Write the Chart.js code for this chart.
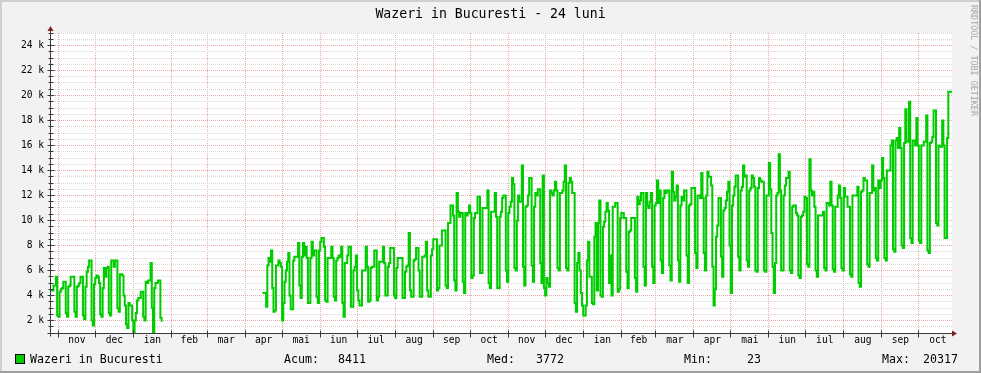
<!DOCTYPE html>
<html>
<head>
<meta charset="utf-8">
<title>Wazeri in Bucuresti - 24 luni</title>
<script src="https://cdn.jsdelivr.net/npm/chart.js@4.4.1/dist/chart.umd.min.js"></script>
<style>
html,body{margin:0;padding:0;background:#f2f2f2;overflow:hidden}
canvas{display:block}
</style>
</head>
<body>
<canvas id="chart" width="981" height="373"></canvas>
<script>
// ---------- texts & tick labels ----------
const chartTitle = 'Wazeri in Bucuresti - 24 luni';
const seriesLabel = 'Wazeri in Bucuresti';
const watermarkText = 'RRDTOOL / TOBI OETIKER';
const statNames = ['Acum:', 'Med:', 'Min:', 'Max:'];
const statValues = ['8411', '3772', '23', '20317'];
const monthLabels = ['nov','dec','ian','feb','mar','apr','mai','iun','iul','aug','sep','oct',
                     'nov','dec','ian','feb','mar','apr','mai','iun','iul','aug','sep','oct'];
const monthLengths = [30,31,31,29,31,30,31,30,31,31,30,31,30,31,31,28,31,30,31,30,31,31,30,31];
const firstMonthOffset = 6;      // days from first sample to 1 Nov
const spanDays = 733;            // days shown on the x axis
const yTickValues = [2000,4000,6000,8000,10000,12000,14000,16000,18000,20000,22000,24000];
const yTickLabels = ['2 k','4 k','6 k','8 k','10 k','12 k','14 k','16 k','18 k','20 k','22 k','24 k'];
const yMin = 1000, yMax = 25000, yMinorStep = 500;

// ---------- daily values (thousands) ----------
const valuesNov15Jan16 = [
4.4,4.4,4.8,4.8,5.5,2.4,2.3, 4.3,4.5,4.6,5.1,5.1,2.6,2.3, 4.7,4.8,5.5,5.5,5.5,2.7,2.3,
4.7,4.8,5.0,5.5,5.5,2.4,2.1, 4.7,5.9,6.3,6.8,6.8,2.0,1.6, 4.9,5.4,5.6,5.5,5.0,2.5,2.3,
4.6,6.2,5.5,6.2,6.3,2.6,2.4, 6.8,6.8,6.3,6.8,6.8,3.0,2.7, 5.7,5.7,5.6,4.0,3.2,1.7,1.4,
3.4,3.2,3.2,2.0,0.8,2.0,2.6, 3.6,3.8,3.8,4.3,4.3,2.3,2.0, 5.1,5.0,5.2,5.2,6.6,3.0,0.9,
4.6,5.0,5.0,5.2,5.2,2.2,1.9];
const gapDays = 81;
const valuesApr16Oct16 = [
4.2,4.2,4.2,3.1,
6.4,7.0,6.7,7.6,4.6,2.7,2.8, 6.4,6.4,6.8,6.6,6.3,2.0,3.4, 5.1,6.0,6.7,7.4,4.0,2.9,2.9,
6.8,7.1,7.1,7.1,8.2,4.8,3.8, 7.1,8.2,7.2,7.9,7.0,3.4,3.4, 7.0,8.3,7.2,7.6,7.6,3.9,3.4,
7.6,8.3,8.6,8.6,7.9,3.6,3.5, 7.0,7.0,7.0,7.9,7.0,3.9,3.6, 6.8,7.0,7.2,7.1,7.9,3.4,2.3,
6.6,6.6,7.2,7.9,7.9,3.1,3.1, 6.0,6.3,7.2,4.4,3.6,3.2,3.2, 6.0,6.0,6.0,7.9,6.3,3.5,3.6,
6.2,6.3,6.3,7.6,7.6,3.6,3.9, 6.7,6.7,6.7,7.9,6.6,4.0,4.0, 6.3,6.6,7.8,7.8,7.8,4.0,3.8,
6.2,7.0,7.0,7.0,7.0,3.8,3.8, 5.9,6.3,6.4,9.0,4.4,3.9,3.9, 6.8,6.9,7.8,7.8,6.0,3.9,3.9,
7.1,7.1,7.2,8.3,4.4,3.9,3.9, 7.2,7.7,8.5,8.5,8.5,4.4,4.6, 8.0,8.0,9.2,9.2,9.2,4.8,4.6,
9.8,9.8,11.2,11.2,10.4,5.2,4.4, 12.2,10.7,10.3,10.6,10.6,5.1,4.2, 10.6,10.4,10.6,11.2,10.6,5.4,5.6,
10.2,10.6,10.6,11.9,11.9,5.8,5.8, 11.0,11.0,11.0,11.0,12.4,5.0,4.6, 10.7,10.7,10.7,12.2,10.3,4.6,4.6,
10.3,10.7,11.8,12.0,12.0,6.0,5.1];
const valuesNov16Apr17 = [
10.6,11.1,11.5,13.4,12.9,6.2,6.0, 10.0,12.0,11.5,11.5,14.4,6.3,4.8, 11.1,11.2,12.0,13.4,13.4,6.4,5.1,
11.1,12.2,12.0,12.5,12.5,6.6,5.0, 13.6,4.6,4.0,5.4,5.0,4.7,12.4, 12.2,12.0,12.4,13.1,12.4,6.2,6.0,
12.2,12.2,12.4,13.1,14.4,6.2,6.0, 13.0,13.4,13.1,12.2,12.2,3.4,2.7, 6.6,7.4,6.0,4.2,3.2,2.4,2.4,
3.2,6.8,8.3,5.5,5.5,3.4,3.3, 8.7,9.8,4.4,9.8,11.6,4.0,3.9, 9.5,9.9,10.7,11.4,10.8,5.0,7.2,
4.0,11.1,11.1,11.4,11.4,4.3,4.5, 10.2,10.6,10.6,10.2,10.2,5.9,4.6, 9.1,9.2,10.2,10.2,10.2,5.4,4.3,
11.9,11.3,11.6,12.2,12.2,6.3,4.8, 12.2,11.2,11.0,11.5,12.2,6.3,5.0, 11.2,11.4,13.2,11.4,12.4,6.8,5.8,
11.8,12.4,12.2,12.4,12.4,6.4,5.2, 13.9,12.3,11.6,11.9,12.8,6.8,5.1, 11.2,11.9,11.6,12.4,12.4,7.2,5.0,
11.2,11.3,12.6,12.6,12.6,7.4,6.2, 12.0,12.0,11.8,13.8,11.8,7.4,6.0, 12.0,13.9,13.5,13.5,12.8,6.3,3.2,
4.5,8.7,9.6,11.8,11.8,7.1,5.5, 10.8,11.0,11.6,12.3,13.1,8.0,4.2];
const valuesMay17Oct17 = [
11.2,12.0,12.7,13.6,13.6,7.1,6.0, 12.4,12.7,14.4,13.5,13.6,6.8,6.3, 12.4,12.6,13.6,13.4,12.7,6.0,5.9,
12.6,13.4,13.2,13.1,13.1,6.0,5.9, 12.0,12.0,14.6,12.5,9.0,6.3,4.2, 6.6,12.0,12.2,15.3,12.4,6.0,6.0,
12.0,12.8,13.4,13.4,13.9,6.0,5.8, 11.1,11.2,11.2,10.6,10.4,5.6,5.4, 10.3,10.4,10.7,11.9,11.8,6.5,6.3,
14.9,12.4,12.0,12.3,11.1,6.0,5.5, 10.4,10.4,10.4,10.4,10.7,6.2,6.0, 11.4,11.4,11.2,13.1,11.2,6.1,5.9,
11.1,11.1,12.0,12.8,11.8,6.2,6.0, 12.6,11.9,11.9,11.1,11.1,5.7,5.5, 12.0,12.0,12.0,12.0,12.7,5.0,4.7,
12.3,12.4,13.4,13.2,13.2,6.5,6.3, 12.2,12.2,14.4,12.4,12.6,7.0,6.8, 13.2,12.6,13.2,15.0,13.4,7.0,6.8,
14.0,14.0,14.0,16.0,16.4,7.7,7.5, 16.4,16.6,15.8,17.4,15.8,8.0,7.8, 16.2,18.9,16.3,16.3,19.5,8.6,8.2,
16.4,16.4,16.0,18.2,16.0,8.4,8.2, 16.0,16.0,16.3,16.3,18.4,7.6,7.4, 16.2,16.3,16.7,18.8,18.8,9.8,9.6,
16.0,15.9,15.9,18.0,16.0,8.6,8.6, 16.6,20.3,20.3,20.3,20.3];

// ---------- derived structures ----------
const monthStarts = [];
{ let acc = firstMonthOffset; for (const len of monthLengths) { monthStarts.push(acc); acc += len; } }
const monthMids = monthStarts.map((s, i) => s + monthLengths[i] / 2);
const daily = [].concat(valuesNov15Jan16, new Array(gapDays).fill(null),
                        valuesApr16Oct16, valuesNov16Apr17, valuesMay17Oct17);
const points = daily.map((v, i) => ({ x: i, y: v === null ? null : v * 1000 }));

const C = {
  back: '#f2f2f2', canvas: '#ffffff', shadeA: '#cfcfcf', shadeB: '#9e9e9e',
  grid: '#d9d9d9', mgrid: '#eaa8a8', axis: '#3a3a3a', arrow: '#801f1f',
  line: '#00cc00', font: '#000000', water: '#a6a6a6'
};
const MONO = '"DejaVu Sans Mono", "Liberation Mono", monospace';

const crisp = p => Math.round(p - 0.5) + 0.5;

const rrdPlugin = {
  id: 'rrd',
  beforeDraw(chart) {
    const { ctx, chartArea: a, width: W, height: H } = chart;
    ctx.save();
    ctx.fillStyle = C.back; ctx.fillRect(0, 0, W, H);
    ctx.fillStyle = C.shadeA; ctx.fillRect(0, 0, W, 2); ctx.fillRect(0, 0, 2, H);
    ctx.fillStyle = C.shadeB; ctx.fillRect(0, H - 2, W, 2); ctx.fillRect(W - 2, 0, 2, H);
    ctx.fillStyle = C.canvas; ctx.fillRect(a.left, a.top, a.right - a.left, a.bottom - a.top);
    ctx.restore();
  },
  afterDatasetsDraw(chart) {
    const { ctx, chartArea: a, scales } = chart;
    const ax = a.left - 0.5, ay = crisp(a.bottom);
    ctx.save();
    ctx.strokeStyle = C.axis; ctx.lineWidth = 1;
    ctx.beginPath();
    ctx.moveTo(ax, ay + 3); ctx.lineTo(ax, a.top - 4);
    ctx.moveTo(ax - 3, ay); ctx.lineTo(a.right + 2, ay);
    scales.y.ticks.forEach(t => {
      const y = crisp(scales.y.getPixelForValue(t.value));
      const l = yTickValues.includes(t.value) ? 3 : 2;
      ctx.moveTo(ax - l, y); ctx.lineTo(ax + l + 1, y);
    });
    scales.x.ticks.forEach(t => {
      const x = crisp(scales.x.getPixelForValue(t.value));
      ctx.moveTo(x, ay - 3); ctx.lineTo(x, ay + 4);
    });
    ctx.stroke();
    ctx.fillStyle = C.arrow;
    ctx.beginPath();
    ctx.moveTo(ax - 3, a.top - 2); ctx.lineTo(ax + 3, a.top - 2); ctx.lineTo(ax, a.top - 7);
    ctx.closePath(); ctx.fill();
    ctx.beginPath();
    ctx.moveTo(a.right, ay - 3); ctx.lineTo(a.right, ay + 3); ctx.lineTo(a.right + 5, ay);
    ctx.closePath(); ctx.fill();
    ctx.restore();
  },
  afterDraw(chart) {
    const { ctx, width: W } = chart;
    ctx.save();
    ctx.fillStyle = C.font;
    ctx.textBaseline = 'alphabetic';
    ctx.font = '13.2px ' + MONO;
    ctx.textAlign = 'center';
    ctx.fillText(chartTitle, W / 2, 18);
    // legend
    ctx.fillStyle = '#000'; ctx.fillRect(15, 354, 10, 10);
    ctx.fillStyle = C.line; ctx.fillRect(16, 355, 8, 8);
    ctx.fillStyle = C.font;
    ctx.textAlign = 'left';
    ctx.font = '11.6px ' + MONO;
    ctx.fillText(seriesLabel, 30, 363);
    const nameX = [284, 487, 684, 882];
    const valRight = [366, 564, 761, 958];
    statNames.forEach((n, i) => {
      ctx.textAlign = 'left'; ctx.fillText(n, nameX[i], 363);
      ctx.textAlign = 'right'; ctx.fillText(statValues[i], valRight[i], 363);
    });
    // watermark
    ctx.translate(973, 5);
    ctx.rotate(Math.PI / 2);
    ctx.font = '8.4px ' + MONO;
    ctx.fillStyle = C.water;
    ctx.textAlign = 'left'; ctx.textBaseline = 'middle';
    ctx.fillText(watermarkText, 0, 0);
    ctx.restore();
  }
};

Chart.defaults.font.family = MONO;

new Chart(document.getElementById('chart'), {
  type: 'line',
  data: {
    datasets: [{
      label: seriesLabel,
      data: points,
      stepped: true,
      borderColor: C.line,
      backgroundColor: C.line,
      borderWidth: 2,
      pointRadius: 0,
      fill: false,
      spanGaps: false
    }]
  },
  options: {
    responsive: false,
    animation: false,
    devicePixelRatio: 1,
    events: [],
    layout: { padding: { top: 33, right: 29, bottom: 0, left: 0 } },
    plugins: { legend: { display: false }, title: { display: false }, tooltip: { enabled: false } },
    scales: {
      x: {
        type: 'linear', min: 0, max: spanDays, position: 'bottom',
        afterBuildTicks: s => { s.ticks = monthStarts.map(v => ({ value: v })); },
        afterFit: s => { s.height = 0; },
        grid: { color: C.mgrid, lineWidth: 1, drawTicks: false, borderDash: [1, 1] },
        border: { display: false, dash: [1, 1] },
        ticks: { display: false }
      },
      x2: {
        type: 'linear', axis: 'x', min: 0, max: spanDays, position: 'bottom',
        afterBuildTicks: s => { s.ticks = monthMids.map(v => ({ value: v })); },
        afterFit: s => { s.height = 40; },
        grid: { display: false, drawTicks: false },
        border: { display: false },
        ticks: {
          autoSkip: false, maxRotation: 0, minRotation: 0, padding: 2, color: C.font,
          font: { family: MONO, size: 9.6 },
          callback: (v, i) => monthLabels[i]
        }
      },
      y: {
        type: 'linear', min: yMin, max: yMax,
        afterBuildTicks: s => {
          const t = [];
          for (let v = yMin; v <= yMax; v += yMinorStep) t.push({ value: v });
          s.ticks = t;
        },
        afterFit: s => { s.width = 51; },
        grid: {
          color: ctx => (yTickValues.includes(ctx.tick && ctx.tick.value) ? C.mgrid : C.grid),
          drawTicks: false, borderDash: [1, 1]
        },
        border: { display: false, dash: [1, 1] },
        ticks: {
          autoSkip: false, padding: 7, color: C.font,
          font: { family: MONO, size: 9.6 },
          callback: v => { const i = yTickValues.indexOf(v); return i >= 0 ? yTickLabels[i] : ''; }
        }
      }
    }
  },
  plugins: [rrdPlugin]
});
</script>
</body>
</html>
